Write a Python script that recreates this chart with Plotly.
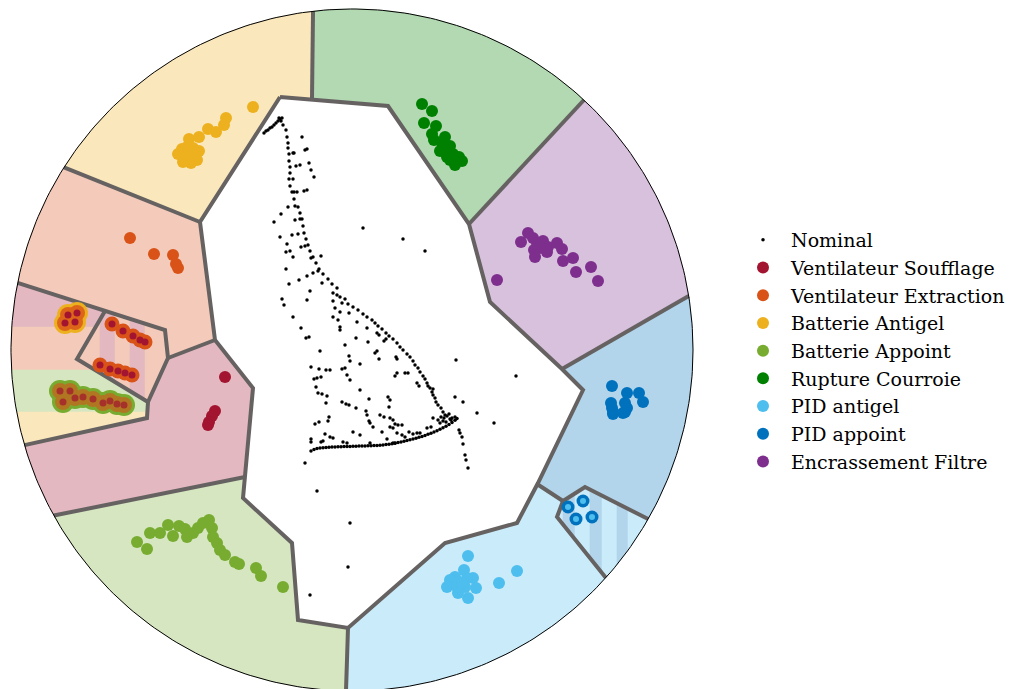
import numpy as np
import plotly.graph_objects as go

# ---------------------------------------------------------------
# Projection space: a disc of radius R centred on (CX, CY)
# ---------------------------------------------------------------
CX, CY, R = 352.0, 350.0, 341.0

# Class labels (legend order) and their colours
labels = ["Nominal", "Ventilateur Soufflage", "Ventilateur Extraction",
          "Batterie Antigel", "Batterie Appoint", "Rupture Courroie",
          "PID antigel", "PID appoint", "Encrassement Filtre"]
colors = {"Nominal": "#000000",
          "Ventilateur Soufflage": "#A2142F",
          "Ventilateur Extraction": "#D95319",
          "Batterie Antigel": "#EDB120",
          "Batterie Appoint": "#77AC30",
          "Rupture Courroie": "#008000",
          "PID antigel": "#4DBEEE",
          "PID appoint": "#0072BD",
          "Encrassement Filtre": "#7E2F8E"}

# ---------------------------------------------------------------
# Projected samples
# ---------------------------------------------------------------
nominal_pts = [
    (283,125),(286,130),(287,137),(288,143),(302,137),(288,148),(305,150),(307,149),(289,154),(293,153),
    (294,153),(289,161),(309,163),(290,167),(296,166),(300,165),(311,170),(290,173),(314,177),(289,179),
    (293,179),(290,186),(292,192),(294,192),(297,192),(304,191),(307,190),(294,199),(288,207),(295,206),
    (298,207),(281,214),(300,213),(274,222),(295,220),(300,219),(302,219),(303,226),(292,235),(298,234),
    (280,237),(304,233),(306,239),(287,244),(301,247),(305,246),(308,245),(290,251),(286,252),(310,251),
    (293,257),(311,258),(313,257),(321,256),(316,263),(286,269),(319,269),(318,271),(313,273),(307,276),
    (323,274),(299,280),(328,279),(289,284),(322,283),(332,284),(337,288),(363,228),(403,239),(425,251),
    (264,133),(266,131),(268,130),(270,128),(272,127),(274,125),(276,123),(278,121),(280,119),(282,118),
    (279,118),(281,121),
    (310,291),(333,293),(337,295),(340,297),(282,299),(284,305),(307,300),(333,301),(345,299),(342,303),
    (348,304),(353,307),(358,310),(335,308),(340,312),(349,313),(363,314),(367,317),(372,320),(293,317),
    (333,317),(338,320),(357,322),(375,323),(378,326),(382,329),(340,327),(340,330),(367,328),(301,328),
    (386,333),(389,336),(393,339),(377,333),(379,335),(306,338),(309,337),(356,338),(368,342),(384,341),
    (386,339),(397,343),(400,347),(403,350),(345,345),(320,351),(377,351),(375,353),(407,354),(410,357),
    (413,361),(349,356),(350,361),(396,357),(397,359),(379,359),(360,364),(456,360),(415,365),(418,368),
    (420,372),(311,367),(319,369),(326,370),(330,370),(342,369),(345,368),(397,373),(395,376),(405,373),
    (408,373),(423,376),(425,379),(427,383),(347,375),(350,380),(516,376),(314,379),(317,378),(321,377),
    (417,383),(419,386),(428,386),(430,388),(316,387),(360,390),(432,392),(433,395),(435,398),(433,389),
    (318,393),(322,394),(327,396),(369,399),(388,397),(390,400),(436,402),(438,405),(441,408),(443,412),
    (445,415),(455,397),(463,402),(326,403),(342,402),(346,404),(349,405),(356,408),(389,407),(366,411),
    (367,415),(477,413),(380,415),(384,417),(329,417),(328,421),(369,421),(370,423),(390,418),(393,420),
    (433,418),(494,423),(315,424),(319,422),(395,424),(398,425),(402,425),(373,427),(390,427),(393,428),
    (431,427),(427,428),(440,423),(446,422),(450,419),(455,417),(382,432),(353,432),(360,435),(409,432),
    (413,434),(417,433),(420,433),(397,433),(402,435),(405,437),(325,434),(330,437),(333,438),(311,439),
    (311,442),(321,442),(323,441),(343,442),(347,443),(370,443),(387,439),(393,443),(395,443),(459,430),
    (460,433),(462,437),(463,444),(465,455),(466,460),(468,468),(305,463),(317,491),(350,523),(348,567),
    (310,595),(444,418),(447,416),(449,414),(451,420),(452,418),(443,421),(438,420),(441,417),
]

# dense lower branch of the nominal trajectory
nominal_branch_x = [311,314,317,320,323,326,329,332,335,338,341,344,347,350,353,356,359,362,365,368,
                    371,374,377,380,383,386,389,392,395,398,401,404,407,410,413,416,419,422,425,428,
                    431,434,437,440,443,446,449,452,455,457]
nominal_branch_y = [451,449.5,448.5,448,447.7,447.5,447.3,447,447,446.8,446.7,446.6,446.5,446.4,446.3,
                    446.2,446,446,445.9,445.8,445.7,445.6,445.4,445.2,445,444.6,444.2,443.7,443.2,442.6,
                    442,441.3,440.6,439.8,439,438.2,437.3,436.4,435.4,434.3,433.2,432,430.7,429.3,427.8,
                    426.2,424.5,422.5,420.3,418.5]

souff_pts = [(225,377),(215,411),(212,416),(209,422),(208,425)]
extr_pts = [(130,238),(154,254),(173,255),(176,264),(178,268)]
antigel_pts = [(253,107),(226,118),(224,125),(216,132),(208,129),(199,137),(189,139),(182,149),
               (178,154),(187,147),(193,148),(199,151),(185,157),(192,157),(197,160),(183,162),
               (191,163),(185,153),(195,154)]
appoint_pts = [(137,542),(147,549),(150,533),(160,533),(168,525),(173,536),(179,526),(185,529),
               (187,537),(193,533),(198,528),(203,523),(209,520),(212,528),(213,537),(217,543),
               (220,550),(225,555),(235,562),(239,564),(256,568),(261,576),(283,587)]
courroie_pts = [(422,104),(432,111),(424,123),(436,126),(432,134),(434,140),(445,137),(442,143),
                (450,146),(440,151),(447,152),(453,154),(459,157),(462,161),(455,165),(450,160),
                (457,160),(447,157)]
pid_antigel_pts = [(468,556),(464,570),(517,571),(499,583),(455,577),(450,580),(458,582),(447,587),
                   (457,587),(465,587),(473,578),(476,588),(467,578),(458,593),(468,598),(462,583)]
pid_appoint_pts = [(612,386),(627,393),(639,393),(643,402),(611,403),(612,408),(625,403),(627,408),
                   (613,414),(625,412),(623,413),(613,412)]
filtre_pts = [(528,233),(521,242),(533,238),(537,243),(543,241),(548,247),(557,243),(562,249),
              (534,250),(535,257),(540,248),(547,252),(573,258),(563,261),(591,267),(576,272),
              (598,281),(497,280)]

# samples carrying several fault labels at once
multi_souff_extr_antigel = [(68,315),(77,313),(65,323),(75,322)]
multi_souff_extr = [(112,324),(123,331),(133,336),(140,340),(145,342),
                    (100,365),(110,369),(118,371),(125,373),(132,375)]
multi_souff_extr_appoint = [(60,391),(70,391),(63,402),(75,398),(83,397),(93,399),
                            (103,403),(110,401),(117,404),(124,405)]
multi_pid = [(583,501),(568,507),(576,519),(592,517)]

# ---------------------------------------------------------------
# Decision regions
# ---------------------------------------------------------------
core = [(280,97),(388,106),(469,224),(490,302),(562,369),(583,390),(538,483),(517,523),(445,543),
        (348,628),(298,620),(292,543),(243,498),(245,477),(253,388),(215,340),(200,222)]
rim = {"yg": (313,11), "gp": (583,101), "pb": (689,296), "bq": (648,519), "qc": (605,577),
       "cl": (346,691), "lr": (53,516), "rs": (25,445), "ss": (18,283), "sy": (65,168)}


def ang(p):
    return np.arctan2(p[1] - CY, p[0] - CX)


def snap(p):
    a = ang(p)
    return (CX + R*np.cos(a), CY + R*np.sin(a))


def arc(p, q, n=80):
    a0, a1 = ang(p), ang(q)
    if a1 < a0:
        a1 += 2*np.pi
    t = np.linspace(a0, a1, n)
    return list(zip(CX + R*np.cos(t), CY + R*np.sin(t)))


def clip_rect(poly, x0, x1, y0, y1):
    """Sutherland-Hodgman clipping against an axis aligned rectangle."""
    def clip(pts, inside, inter):
        out = []
        for i in range(len(pts)):
            a, b = pts[i-1], pts[i]
            ia, ib = inside(a), inside(b)
            if ib:
                if not ia:
                    out.append(inter(a, b))
                out.append(b)
            elif ia:
                out.append(inter(a, b))
        return out

    def ix(xv):
        return lambda a, b: (xv, a[1] + (b[1]-a[1])*(xv-a[0])/(b[0]-a[0]))

    def iy(yv):
        return lambda a, b: (a[0] + (b[0]-a[0])*(yv-a[1])/(b[1]-a[1]), yv)

    pts = list(poly)
    for inside, inter in [(lambda p: p[0] >= x0, ix(x0)), (lambda p: p[0] <= x1, ix(x1)),
                          (lambda p: p[1] >= y0, iy(y0)), (lambda p: p[1] <= y1, iy(y1))]:
        if not pts:
            break
        pts = clip(pts, inside, inter)
    return pts


def pale(hexcol, a=0.3):
    """Class colour at 30 % over white, returned opaque."""
    h = hexcol.lstrip("#")
    c = [int(h[i:i+2], 16) for i in (0, 2, 4)]
    return "rgb(%d,%d,%d)" % tuple(round(255*(1-a) + v*a) for v in c)


regions = [
    ("Batterie Antigel", arc(rim["sy"], rim["yg"]) + [(312,98),(280,97),(200,222)]),
    ("Rupture Courroie", arc(rim["yg"], rim["gp"]) + [(469,224),(388,106),(312,98)]),
    ("Encrassement Filtre", arc(rim["gp"], rim["pb"]) + [(562,369),(490,302),(469,224)]),
    ("PID appoint", arc(rim["pb"], rim["bq"]) + [(585,487),(563,501),(537,484),(583,390),(562,369)]),
    ("PID antigel", arc(rim["qc"], rim["cl"]) + [(348,628),(445,543),(517,523),(537,484),(563,501),(557,517)]),
    ("Batterie Appoint", arc(rim["cl"], rim["lr"]) + [(245,477),(243,498),(292,543),(298,620),(348,628)]),
    ("Ventilateur Soufflage", arc(rim["lr"], rim["rs"]) + [(147,418),(148,402),(168,358),(215,340),(253,388),(245,477)]),
    ("Ventilateur Extraction", arc(rim["ss"], rim["sy"]) + [(200,222),(215,340),(168,358),(165,330)]),
]
left_mixed = arc(rim["rs"], rim["ss"]) + [(105,311),(77,359),(148,402),(147,418)]
quad = [(105,311),(165,330),(168,358),(148,402),(77,359)]
pentagon = arc(rim["bq"], rim["qc"]) + [(557,517),(563,501),(585,487)]

# regions shared by several classes are painted as bands of the class colours
bands = [
    (left_mixed, "Ventilateur Soufflage", (0, 400, 0, 327)),
    (left_mixed, "Ventilateur Extraction", (0, 400, 327, 370)),
    (left_mixed, "Batterie Appoint", (0, 400, 370, 412)),
    (left_mixed, "Batterie Antigel", (0, 400, 412, 700)),
    (quad, "Ventilateur Extraction", (0, 100, 0, 700)),
    (quad, "Ventilateur Soufflage", (100, 115, 0, 700)),
    (quad, "Ventilateur Extraction", (115, 130, 0, 700)),
    (quad, "Ventilateur Soufflage", (130, 145, 0, 700)),
    (quad, "Ventilateur Extraction", (145, 400, 0, 700)),
    (pentagon, "PID antigel", (500, 563, 0, 700)),
    (pentagon, "PID appoint", (563, 575, 0, 700)),
    (pentagon, "PID antigel", (575, 590, 0, 700)),
    (pentagon, "PID appoint", (590, 602, 0, 700)),
    (pentagon, "PID antigel", (602, 617, 0, 700)),
    (pentagon, "PID appoint", (617, 628, 0, 700)),
    (pentagon, "PID antigel", (628, 700, 0, 700)),
]

borders = [
    core + [core[0]],
    [snap(rim["yg"]), (312,98)],
    [snap(rim["gp"]), (469,224)],
    [snap(rim["pb"]), (562,369)],
    [(537,484),(563,501),(585,487), snap(rim["bq"])],
    [(563,501),(557,517), snap(rim["qc"])],
    [(348,628), snap(rim["cl"])],
    [(245,477), snap(rim["lr"])],
    [(215,340),(168,358)],
    [snap(rim["ss"]),(105,311),(165,330),(168,358),(148,402),(147,418), snap(rim["rs"])],
    [(105,311),(77,359),(148,402)],
    [(200,222), snap(rim["sy"])],
]

fig = go.Figure()


def add_poly(pts, fill):
    xs = [p[0] for p in pts] + [pts[0][0]]
    ys = [p[1] for p in pts] + [pts[0][1]]
    fig.add_trace(go.Scatter(x=xs, y=ys, mode="lines", fill="toself", fillcolor=fill,
                             line=dict(width=0.6, color=fill), hoverinfo="skip", showlegend=False))


for name, poly in regions:
    add_poly(poly, pale(colors[name]))
for poly, name, (x0, x1, y0, y1) in bands:
    piece = clip_rect(poly, x0, x1, y0, y1)
    if len(piece) >= 3:
        add_poly(piece, pale(colors[name]))

for line in borders:
    fig.add_trace(go.Scatter(x=[p[0] for p in line], y=[p[1] for p in line], mode="lines",
                             line=dict(color="#666262", width=4), hoverinfo="skip", showlegend=False))

ring = np.linspace(0, 2*np.pi, 400)
fig.add_trace(go.Scatter(x=CX + R*np.cos(ring), y=CY + R*np.sin(ring), mode="lines",
                         line=dict(color="black", width=1), hoverinfo="skip", showlegend=False))


def add_pts(pts, color, size, name=None, legend=False, opacity=1.0):
    fig.add_trace(go.Scatter(x=[p[0] for p in pts], y=[p[1] for p in pts], mode="markers",
                             marker=dict(color=color, size=size, line=dict(width=0)),
                             opacity=opacity, name=name, showlegend=legend))


# multi-label samples: one concentric disc per label
add_pts(multi_souff_extr_antigel, colors["Batterie Antigel"], 22)
add_pts(multi_souff_extr_appoint, colors["Batterie Appoint"], 22)
add_pts(multi_souff_extr_antigel, colors["Ventilateur Extraction"], 16, opacity=0.8)
add_pts(multi_souff_extr_appoint, colors["Ventilateur Extraction"], 16, opacity=0.6)
add_pts(multi_souff_extr, colors["Ventilateur Extraction"], 15)
add_pts(multi_souff_extr_antigel + multi_souff_extr, colors["Ventilateur Soufflage"], 7)
add_pts(multi_souff_extr_appoint, colors["Ventilateur Soufflage"], 7, opacity=0.7)
add_pts(multi_pid, colors["PID appoint"], 13)
add_pts(multi_pid, colors["PID antigel"], 6)

# single-label samples (legend entries)
all_nominal = nominal_pts + list(zip(nominal_branch_x, nominal_branch_y))
add_pts(all_nominal, colors["Nominal"], 3.5, "Nominal", True)
class_pts = {"Ventilateur Soufflage": souff_pts, "Ventilateur Extraction": extr_pts,
             "Batterie Antigel": antigel_pts, "Batterie Appoint": appoint_pts,
             "Rupture Courroie": courroie_pts, "PID antigel": pid_antigel_pts,
             "PID appoint": pid_appoint_pts, "Encrassement Filtre": filtre_pts}
for name in labels[1:]:
    add_pts(class_pts[name], colors[name], 12, name, True)

fig.update_layout(
    width=1019, height=689, margin=dict(l=0, r=0, t=0, b=0),
    paper_bgcolor="white", plot_bgcolor="white",
    xaxis=dict(range=[0, 1019], visible=False, fixedrange=True),
    yaxis=dict(range=[689, 0], visible=False, fixedrange=True),
    legend=dict(x=735/1019, y=1 - 221/689, xanchor="left", yanchor="top",
                font=dict(family="DejaVu Serif", size=19, color="black"),
                bgcolor="rgba(0,0,0,0)", itemsizing="trace", itemwidth=46),
    showlegend=True,
)

fig.write_html("out.html")
